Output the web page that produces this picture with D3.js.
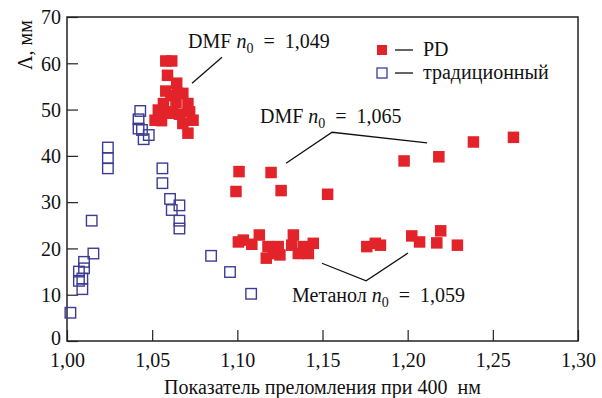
<!DOCTYPE html>
<html>
<head>
<meta charset="utf-8">
<script src="https://cdn.jsdelivr.net/npm/d3@7"></script>
<style>
  body { margin: 0; background: #fff; }
  svg { display: block; }
</style>
</head>
<body>
<div id="chart"></div>
<script>
// PD (red filled squares)
const pdN = [
  1.058, 1.0615, 1.059, 1.0644, 1.068, 1.071, 1.074, 1.071, 1.0517, 1.0536, 1.0566, 1.0555,
  1.060, 1.062, 1.061, 1.064, 1.066, 1.068, 1.072, 1.065, 1.058,
  1.101, 1.1198, 1.0992, 1.1257, 1.153, 1.1979, 1.2183, 1.2386, 1.2621,
  1.1006, 1.1035, 1.1085, 1.1129, 1.118, 1.117, 1.121, 1.124, 1.125, 1.1329, 1.1319,
  1.1358, 1.1388, 1.1417, 1.1446,
  1.176, 1.181, 1.184, 1.2024, 1.207, 1.2194, 1.2171, 1.2292
];
const pdLambda = [
  60.5, 60.5, 57.4, 55.7, 53.5, 51.3, 47.7, 44.9, 47.7, 49.9, 51.3, 47.6,
  49.2, 49.5, 53.0, 51.5, 49.0, 47.0, 49.5, 53.5, 54.0,
  36.6, 36.4, 32.3, 32.5, 31.7, 38.9, 39.8, 43.0, 44.0,
  21.4, 21.8, 20.9, 22.9, 20.4, 17.9, 18.9, 20.4, 18.6, 22.9, 20.7,
  18.9, 20.4, 18.9, 21.1,
  20.4, 21.1, 20.7, 22.7, 21.4, 23.8, 21.2, 20.7
];

// traditional (blue hollow squares)
const tradN = [
  1.002, 1.009, 1.007, 1.009, 1.007, 1.010, 1.010, 1.0155, 1.0145,
  1.024, 1.024, 1.024,
  1.043, 1.042, 1.042, 1.044, 1.048, 1.045,
  1.056, 1.056, 1.0605, 1.0615, 1.066, 1.066, 1.066,
  1.0846, 1.0957, 1.1081
];
const tradLambda = [
  6.1, 11.2, 13.0, 13.5, 15.0, 15.7, 17.1, 18.9, 26.0,
  37.3, 39.5, 41.8,
  49.7, 47.9, 45.9, 45.6, 44.5, 43.6,
  37.3, 34.1, 30.7, 28.3, 29.3, 26.0, 24.3,
  18.4, 14.9, 10.2
];

const xTicks = [1.00, 1.05, 1.10, 1.15, 1.20, 1.25, 1.30];
const yTicks = [0, 10, 20, 30, 40, 50, 60, 70];

// annotations: text anchor and leader polyline, in data units
const notes = [
  { label: "DMF", n0: "1,049", at: [1.0711, 63.3], line: [[1.0734, 55.7], [1.091, 61.3]] },
  { label: "DMF", n0: "1,065", at: [1.1133, 47.1], line: [[1.1286, 38.4], [1.1556, 45.1], [1.2114, 42.8]] },
  { label: "Метанол", n0: "1,059", at: [1.1321, 8.4], line: [[1.1497, 16.8], [1.1756, 13.0], [1.2002, 19.0]] }
];

const width = 602, height = 398;
const margin = { top: 17, right: 24, bottom: 57, left: 67 };
const red = "#e3232a", blue = "#3d3c93";
const font = "Liberation Serif";

const svg = d3.select("#chart").append("svg")
  .attr("width", width).attr("height", height);

const x = d3.scaleLinear().domain([1.0, 1.3]).range([margin.left, width - margin.right]);
const y = d3.scaleLinear().domain([0, 70]).range([height - margin.bottom, margin.top]);

const ru = d3.formatLocale({ decimal: ",", thousands: " ", grouping: [3], currency: ["", ""] });
const fmtX = ru.format(".2f");

// axes with inward ticks
svg.append("g")
  .attr("transform", `translate(0,${height - margin.bottom})`)
  .call(d3.axisBottom(x).tickValues(xTicks).tickFormat(fmtX).tickSize(-11).tickPadding(12))
  .call(g => g.select(".domain").remove())
  .call(g => g.selectAll("line").attr("stroke", "#222").attr("stroke-width", 1.2))
  .call(g => g.selectAll("text").attr("fill", "#111")
    .style("font-family", font).style("font-size", "20px"));

svg.append("g")
  .attr("transform", `translate(${margin.left},0)`)
  .call(d3.axisLeft(y).tickValues(yTicks).tickSize(-11).tickPadding(6))
  .call(g => g.select(".domain").remove())
  .call(g => g.selectAll("line").attr("stroke", "#222").attr("stroke-width", 1.2))
  .call(g => g.selectAll("text").attr("fill", "#111")
    .style("font-family", font).style("font-size", "20px")
    .attr("dy", d => d === 0 ? "0.15em" : "0.34em"));

// frame
svg.append("rect")
  .attr("x", margin.left).attr("y", margin.top)
  .attr("width", width - margin.left - margin.right)
  .attr("height", height - margin.top - margin.bottom)
  .attr("fill", "none").attr("stroke", "#222").attr("stroke-width", 1.5);

// axis titles
svg.append("text")
  .attr("x", (margin.left + width - margin.right) / 2)
  .attr("y", 394)
  .attr("text-anchor", "middle")
  .attr("fill", "#111")
  .style("font-family", font).style("font-size", "20px")
  .style("white-space", "pre")
  .text("Показатель преломления при 400  нм");

svg.append("text")
  .attr("transform", "translate(32,45) rotate(-90)")
  .attr("text-anchor", "middle")
  .attr("fill", "#111")
  .style("font-family", font).style("font-size", "20px")
  .text("Λ, мм");

// points
const s = 11.5;
const pd = pdN.map((n, i) => ({ n, v: pdLambda[i] }));
const trad = tradN.map((n, i) => ({ n, v: tradLambda[i] }));

svg.append("g").selectAll("rect")
  .data(pd).enter().append("rect")
  .attr("x", d => x(d.n) - s / 2).attr("y", d => y(d.v) - s / 2)
  .attr("width", s).attr("height", s)
  .attr("fill", red);

const sb = 10.5;
svg.append("g").selectAll("rect")
  .data(trad).enter().append("rect")
  .attr("x", d => x(d.n) - sb / 2).attr("y", d => y(d.v) - sb / 2)
  .attr("width", sb).attr("height", sb)
  .attr("fill", "none").attr("stroke", blue).attr("stroke-width", 1.4);

// annotations
const line = d3.line().x(d => x(d[0])).y(d => y(d[1]));
notes.forEach(a => {
  svg.append("path").attr("d", line(a.line))
    .attr("fill", "none").attr("stroke", "#111").attr("stroke-width", 1.3);
  const t = svg.append("text")
    .attr("x", x(a.at[0])).attr("y", y(a.at[1]))
    .attr("fill", "#111")
    .style("font-family", font).style("font-size", "20px")
    .style("white-space", "pre");
  t.append("tspan").text(a.label + " ");
  t.append("tspan").style("font-style", "italic").text("n");
  t.append("tspan").style("font-size", "14px").attr("dy", 5).text("0");
  t.append("tspan").attr("dy", -5).text("  =  " + a.n0);
});

// legend
const legend = [
  { label: "PD", filled: true },
  { label: "традиционный", filled: false }
];
const lg = svg.append("g");
legend.forEach((d, i) => {
  const cy = 50 + i * 23;
  lg.append("rect")
    .attr("x", 377).attr("y", cy - 5).attr("width", 10).attr("height", 10)
    .attr("fill", d.filled ? red : "none")
    .attr("stroke", d.filled ? "none" : blue).attr("stroke-width", 1.3);
  lg.append("line")
    .attr("x1", 395).attr("x2", 413).attr("y1", cy).attr("y2", cy)
    .attr("stroke", "#111").attr("stroke-width", 1.3);
  lg.append("text")
    .attr("x", 423).attr("y", cy + 6)
    .attr("fill", "#111")
    .style("font-family", font).style("font-size", "20px")
    .text(d.label);
});
</script>
</body>
</html>
